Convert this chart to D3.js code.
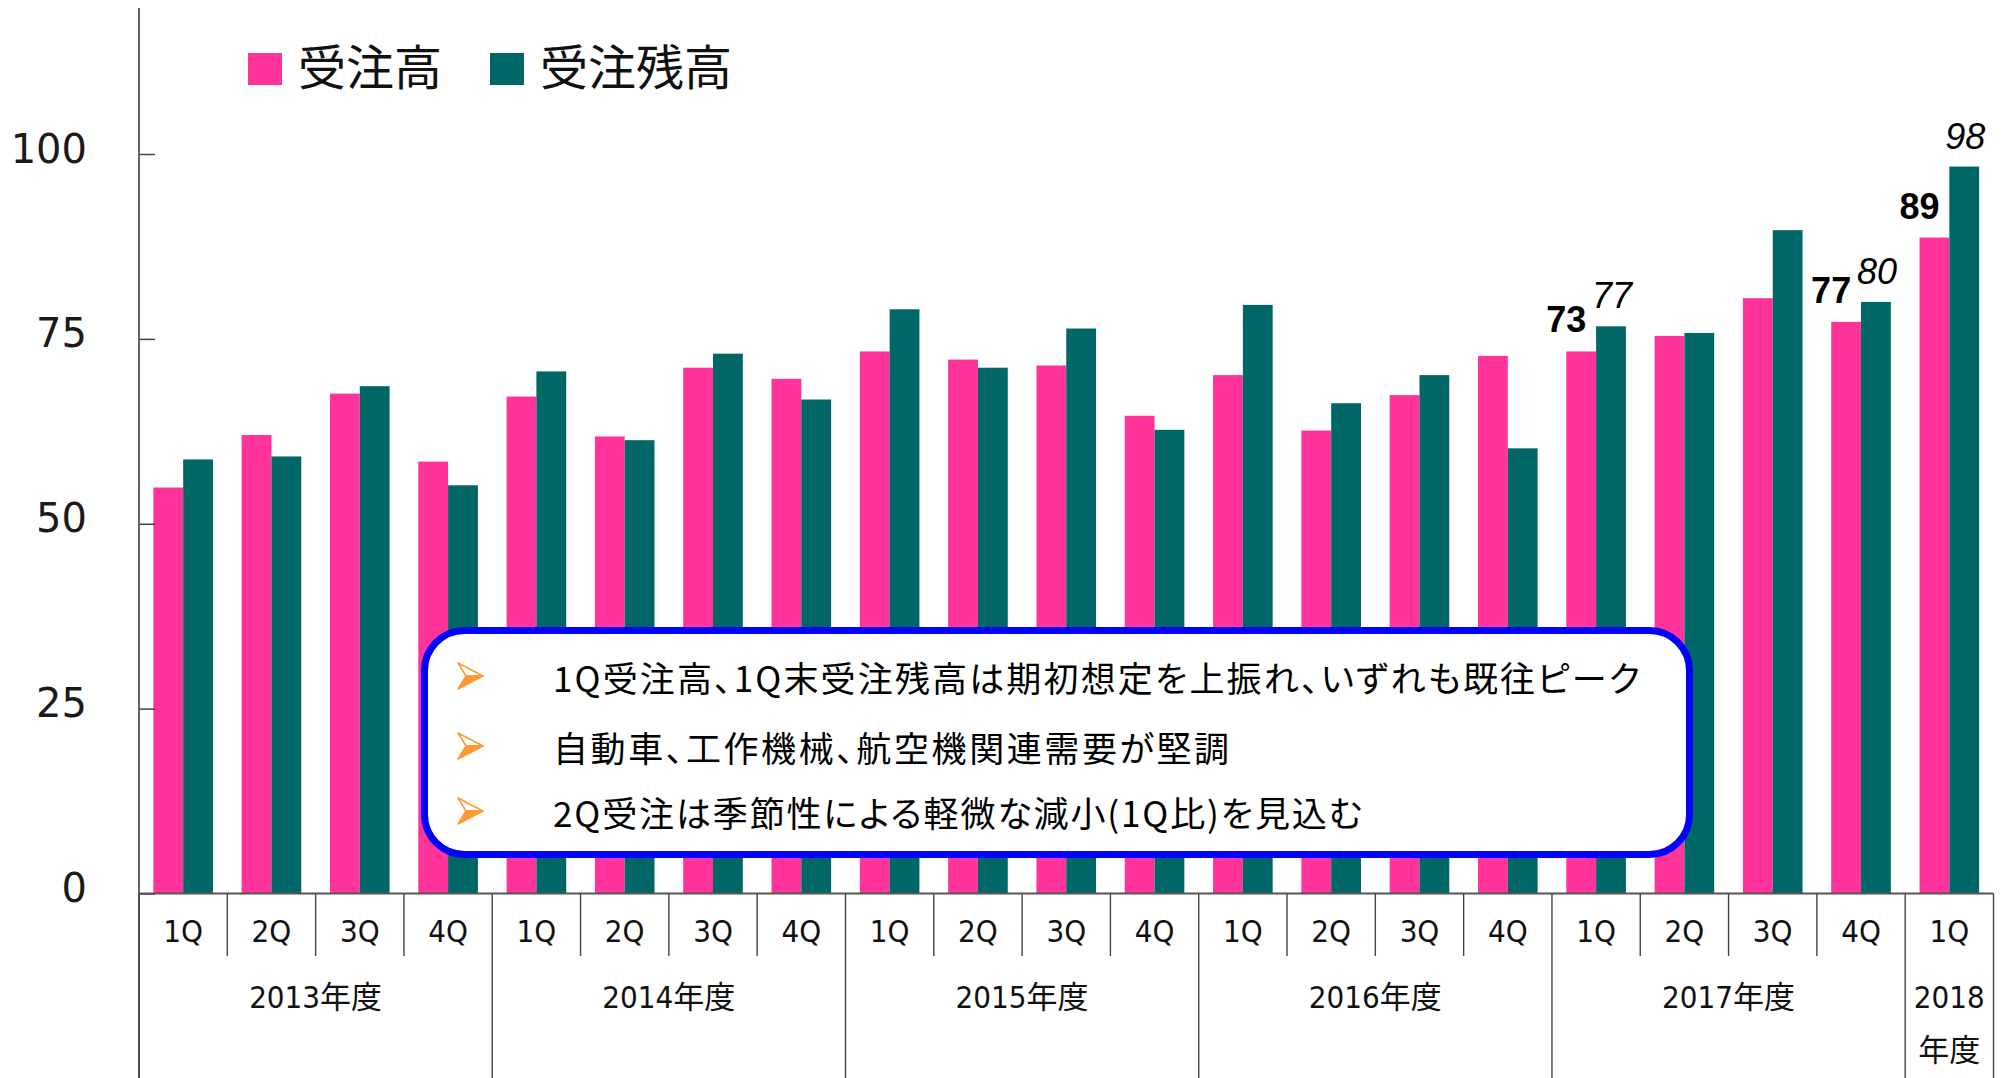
<!DOCTYPE html>
<html><head><meta charset="utf-8">
<script src="https://cdn.jsdelivr.net/npm/d3@7"></script>
<style>html,body{margin:0;padding:0;background:#fff;overflow:hidden}</style>
</head><body><svg id="chart" width="2003" height="1078"></svg>
<script>
// ---------- data ----------
const quarters = ["1Q","2Q","3Q","4Q","1Q","2Q","3Q","4Q","1Q","2Q","3Q","4Q","1Q","2Q","3Q","4Q","1Q","2Q","3Q","4Q","1Q"];
const fiscalYears = ["2013年度","2014年度","2015年度","2016年度","2017年度","2018年度"];
const quartersPerYear = [4,4,4,4,4,1];
const ordersValues  = [54.9,62.0,67.6,58.4, 67.2,61.8,71.1,69.6, 73.3,72.2,71.4,64.6, 70.1,62.6,67.4,72.7, 73.3,75.4,80.5,77.3, 88.7];
const backlogValues = [58.7,59.1,68.6,55.2, 70.6,61.3,73.0,66.8, 79.0,71.1,76.4,62.7, 79.6,66.3,70.1,60.2, 76.7,75.8,89.7,80.0, 98.3];
const seriesNames = ["受注高","受注残高"];
const yTickValues = [0,25,50,75,100];
const labelledQuarters = [16,19,20];
const noteLines = [
  "1Q受注高、1Q末受注残高は期初想定を上振れ、いずれも既往ピーク",
  "自動車、工作機械、航空機関連需要が堅調",
  "2Q受注は季節性による軽微な減小(1Q比)を見込む"
];

// ---------- layout / style ----------
const colors = ["#FF3399","#006666"];
const seriesValues = [ordersValues, backlogValues];
const left = 139, right = 1993.5, base = 893.5, top100 = 154;
const noteWidths = [1087, 676, 809];

const svg = d3.select("#chart");
const x = d3.scaleBand().domain(d3.range(quarters.length)).range([left,right])
  .paddingInner(0.325).paddingOuter(0.1625);
const xs = d3.scaleBand().domain([0,1]).range([0,x.bandwidth()]);
const y = d3.scaleLinear().domain([0,100]).range([base, top100]);
const step = x.step();

// bars
const grp = svg.append("g").selectAll("g").data(d3.range(quarters.length)).join("g")
  .attr("transform", i => `translate(${x(i)},0)`);
grp.selectAll("rect").data(i => [0,1].map(s => ({s, v: seriesValues[s][i]}))).join("rect")
  .attr("x", d => xs(d.s)).attr("width", xs.bandwidth())
  .attr("y", d => y(d.v)).attr("height", d => y(0) - y(d.v))
  .attr("fill", d => colors[d.s]);

// y axis
const yAxis = svg.append("g").attr("transform", `translate(${left},0)`)
  .call(d3.axisLeft(y).tickValues(yTickValues).tickSize(-16).tickPadding(52));
yAxis.select(".domain").remove();
yAxis.selectAll(".tick line").attr("stroke","#444").attr("stroke-width",1.5);
yAxis.selectAll(".tick text").attr("font-family","DejaVu Sans").attr("font-size",40)
  .attr("fill","#1a1a1a").attr("dy","0.2em");
svg.append("line").attr("x1",left).attr("x2",left).attr("y1",8).attr("y2",1078)
  .attr("stroke","#555").attr("stroke-width",1.8);

// x axis table
svg.append("line").attr("x1",left).attr("x2",right).attr("y1",base).attr("y2",base)
  .attr("stroke","#555").attr("stroke-width",2);
const yearStarts = d3.cumsum([0, ...quartersPerYear]);
const boundary = i => left + i*step;
const yearBoundarySet = new Set(yearStarts);
const axisLines = svg.append("g").attr("stroke","#444").attr("stroke-width",1.4);
d3.range(quarters.length + 1).forEach(i => {
  axisLines.append("line").attr("x1",boundary(i)).attr("x2",boundary(i))
    .attr("y1",base).attr("y2", yearBoundarySet.has(i) ? 1078 : 956);
});
svg.append("g").selectAll("text").data(quarters).join("text")
  .attr("x",(d,i) => x(i) + x.bandwidth()/2).attr("y",931)
  .attr("text-anchor","middle").attr("dominant-baseline","central")
  .attr("font-family","'DejaVu Sans Condensed','Noto Sans CJK JP'").attr("font-size",31)
  .attr("fill","#111").text(d => d);
const yearText = svg.append("g").attr("font-family","'DejaVu Sans Condensed','Noto Sans CJK JP'")
  .attr("font-size",31).attr("fill","#111").attr("text-anchor","middle");
fiscalYears.forEach((name,k) => {
  const cx = (boundary(yearStarts[k]) + boundary(yearStarts[k+1]))/2;
  if (quartersPerYear[k] > 1) {
    yearText.append("text").attr("x",cx).attr("y",997).attr("dominant-baseline","central").text(name);
  } else {
    yearText.append("text").attr("x",cx).attr("y",997).attr("dominant-baseline","central").text(name.slice(0,4));
    yearText.append("text").attr("x",cx).attr("y",1050).attr("dominant-baseline","central").text(name.slice(4));
  }
});

// data labels
const lab = svg.append("g").attr("font-family","'Liberation Sans',Arial").attr("font-size",36)
  .attr("text-anchor","middle").attr("fill","#000");
labelledQuarters.forEach(i => {
  [0,1].forEach(s => {
    const v = seriesValues[s][i];
    const cx = x(i) + xs(s) + xs.bandwidth()/2;
    lab.append("text")
      .attr("x", s === 0 ? cx - 15 : cx + 1)
      .attr("y", s === 0 ? y(v) - 19 : y(v) - 18)
      .attr("font-weight", s === 0 ? "bold" : "normal")
      .attr("font-style", s === 0 ? "normal" : "italic")
      .text(d3.format(".0f")(v));
  });
});

// legend
const leg = svg.append("g");
let lx = 248;
seriesNames.forEach((name,s) => {
  leg.append("rect").attr("x",lx).attr("y",53).attr("width",34).attr("height",32).attr("fill",colors[s]);
  const t = leg.append("text").attr("x",lx+50).attr("y",64).attr("dominant-baseline","central")
    .attr("font-family","'Noto Sans CJK JP'").attr("font-size",48).attr("fill","#111").text(name);
  lx += 50 + t.node().getComputedTextLength() + 48;
});

// note box
const note = svg.append("g");
note.append("rect").attr("x",424.5).attr("y",630.5).attr("width",1265).attr("height",224).attr("rx",40)
  .attr("fill","#fff").attr("stroke","#0000FF").attr("stroke-width",7);
const lineY = [676, 746, 811];
noteLines.forEach((txt,k) => {
  const a = note.append("g").attr("transform",`translate(458,${lineY[k]})`);
  a.append("path").attr("d","M0,-13 L25,0 L8,0 Z").attr("fill","#fff").attr("stroke","#FF9933").attr("stroke-width",1.5).attr("stroke-linejoin","round");
  a.append("path").attr("d","M0,13 L25,0 L8,0 Z").attr("fill","#FF9933").attr("stroke","#FF9933").attr("stroke-width",1.5).attr("stroke-linejoin","round");
  note.append("text").attr("x",553).attr("y",lineY[k]).attr("dominant-baseline","central")
    .attr("font-family","'Noto Sans CJK JP'").attr("font-size",35).attr("fill","#000")
    .style("font-feature-settings","'palt'")
    .attr("textLength",noteWidths[k]).attr("lengthAdjust","spacing").text(txt);
});
</script></body></html>
